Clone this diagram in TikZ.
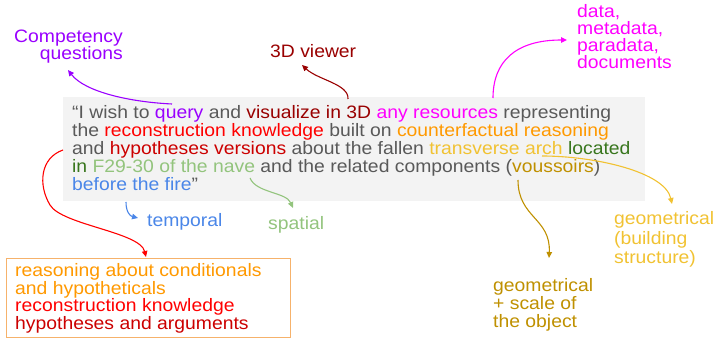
\documentclass[tikz,border=0pt]{standalone}
\usepackage{fontspec}
\setmainfont[FakeStretch=1.075]{Liberation Sans}
\usetikzlibrary{arrows.meta}
\definecolor{tgray}{HTML}{595959}
\definecolor{cpurple}{HTML}{9900FF}
\definecolor{cdarkred}{HTML}{990000}
\definecolor{cred1}{HTML}{CC0000}
\definecolor{cmagenta}{HTML}{FF00FF}
\definecolor{cred}{HTML}{FF0000}
\definecolor{corange}{HTML}{FF9900}
\definecolor{cyellow}{HTML}{F1C232}
\definecolor{cdyellow}{HTML}{BF9000}
\definecolor{cdgreen}{HTML}{38761D}
\definecolor{clgreen}{HTML}{93C47D}
\definecolor{cblue}{HTML}{4A86E8}
\definecolor{boxgray}{HTML}{F3F3F3}
\definecolor{boxorange}{HTML}{F6B26B}
\begin{document}
\begin{tikzpicture}[x=1pt,y=-1pt,
  lbl/.style={anchor=base west, inner sep=0pt, font=\fontsize{18}{18}\selectfont},
  lblr/.style={anchor=base east, inner sep=0pt, font=\fontsize{18}{18}\selectfont},
  conn/.style={line width=1.1pt, -{Triangle[length=6pt,width=5.5pt]}}]
\useasboundingbox (0,0) rectangle (716,339);
% quote box
\path[fill=boxgray] (63,97) rectangle (645,201);
\node[lbl,text=tgray] (l1) at (72,118.5) {“I wish to \textcolor{cpurple}{query} and \textcolor{cdarkred}{visualize in 3D} \textcolor{cmagenta}{any resources} representing};
\node[lbl,text=tgray] (l2) at (72,136.6) {the \textcolor{cred}{reconstruction knowledge} built on \textcolor{corange}{counterfactual reasoning}};
\node[lbl,text=tgray] (l3) at (72,154.7) {and \textcolor{cred1}{hypotheses versions} about the fallen \textcolor{cyellow}{transverse arch} \textcolor{cdgreen}{located}};
\node[lbl,text=tgray] (l4) at (72,172.8) {\textcolor{cdgreen}{in} \textcolor{clgreen}{F29-30 of the nave} and the related components (\textcolor{cdyellow}{voussoirs})};
\node[lbl,text=tgray] (l5) at (72,190.9) {\textcolor{cblue}{before the fire}”};
% arrow start points
\coordinate (sQuery) at (172,104);
\coordinate (sViz) at (348,99);
\coordinate (sRes) at (493,98);
\coordinate (sRec) at (63,150);
\coordinate (sFire) at (126,202);
\coordinate (sNave) at (250,178);
\coordinate (sArch) at (542,156);
\coordinate (sVous) at (518,180);
% labels
\node[lblr,text=cpurple] (cq1) at (123,43) {Competency};
\node[lblr,text=cpurple] (cq2) at (123,60) {questions};
\node[lbl,text=cdarkred] (viewer) at (270,58) {3D viewer};
\node[lbl,text=cmagenta] (d1) at (577,18) {data,};
\node[lbl,text=cmagenta] (d2) at (577,35) {metadata,};
\node[lbl,text=cmagenta] (d3) at (577,52) {paradata,};
\node[lbl,text=cmagenta] (d4) at (577,69) {documents};
\node[lbl,text=cblue] (temporal) at (147,227) {temporal};
\node[lbl,text=clgreen] (spatial) at (268,230) {spatial};
\node[lbl,text=cyellow] (g1) at (614,225) {geometrical};
\node[lbl,text=cyellow] (g2) at (614,244.5) {(building};
\node[lbl,text=cyellow] (g3) at (614,264) {structure)};
\node[lbl,text=cdyellow] (h1) at (493,292) {geometrical};
\node[lbl,text=cdyellow] (h2) at (493,310) {+ scale of};
\node[lbl,text=cdyellow] (h3) at (493,327.5) {the object};
% bottom box
\node[draw=boxorange, line width=1.2pt, fill=white, minimum width=284pt, minimum height=79pt, inner sep=0pt, anchor=north west] (rbox) at (6,258) {};
\node[lbl,text=corange] (r1) at (15,277) {reasoning about conditionals};
\node[lbl,text=corange] (r2) at (15,294.5) {and hypotheticals};
\node[lbl,text=cred] (r3) at (15,312) {reconstruction knowledge};
\node[lbl,text=cred1] (r4) at (15,329.5) {hypotheses and arguments};
% end points
\coordinate (eQuery) at (68,70);
\coordinate (eViz) at (302,65);
\coordinate (eRes) at (567,40);
\coordinate (eRec) at (146,257);
\coordinate (eFire) at (138,218);
\coordinate (eNave) at (293,208);
\coordinate (eArch) at (672,204);
\coordinate (eVous) at (549,258);
% connectors
\draw[conn,cpurple] (sQuery) .. controls (130,102) and (85,92) .. (eQuery);
\draw[conn,cdarkred] (sViz) .. controls (349,84) and (318,80) .. (eViz);
\draw[conn,cmagenta] (sRes) .. controls (493,62) and (515,40) .. (eRes);
\draw[conn,cred] (sRec) .. controls (40,158) and (38,185) .. (50,205) .. controls (62,225) and (140,232) .. (eRec);
\draw[conn,cblue] (sFire) .. controls (126,212) and (130,216) .. (eFire);
\draw[conn,clgreen] (sNave) .. controls (256,193) and (286,192) .. (eNave);
\draw[conn,cyellow] (sArch) .. controls (595,156) and (665,172) .. (eArch);
\draw[conn,cdyellow] (sVous) .. controls (518,218) and (551,218) .. (eVous);
\end{tikzpicture}
\end{document}
